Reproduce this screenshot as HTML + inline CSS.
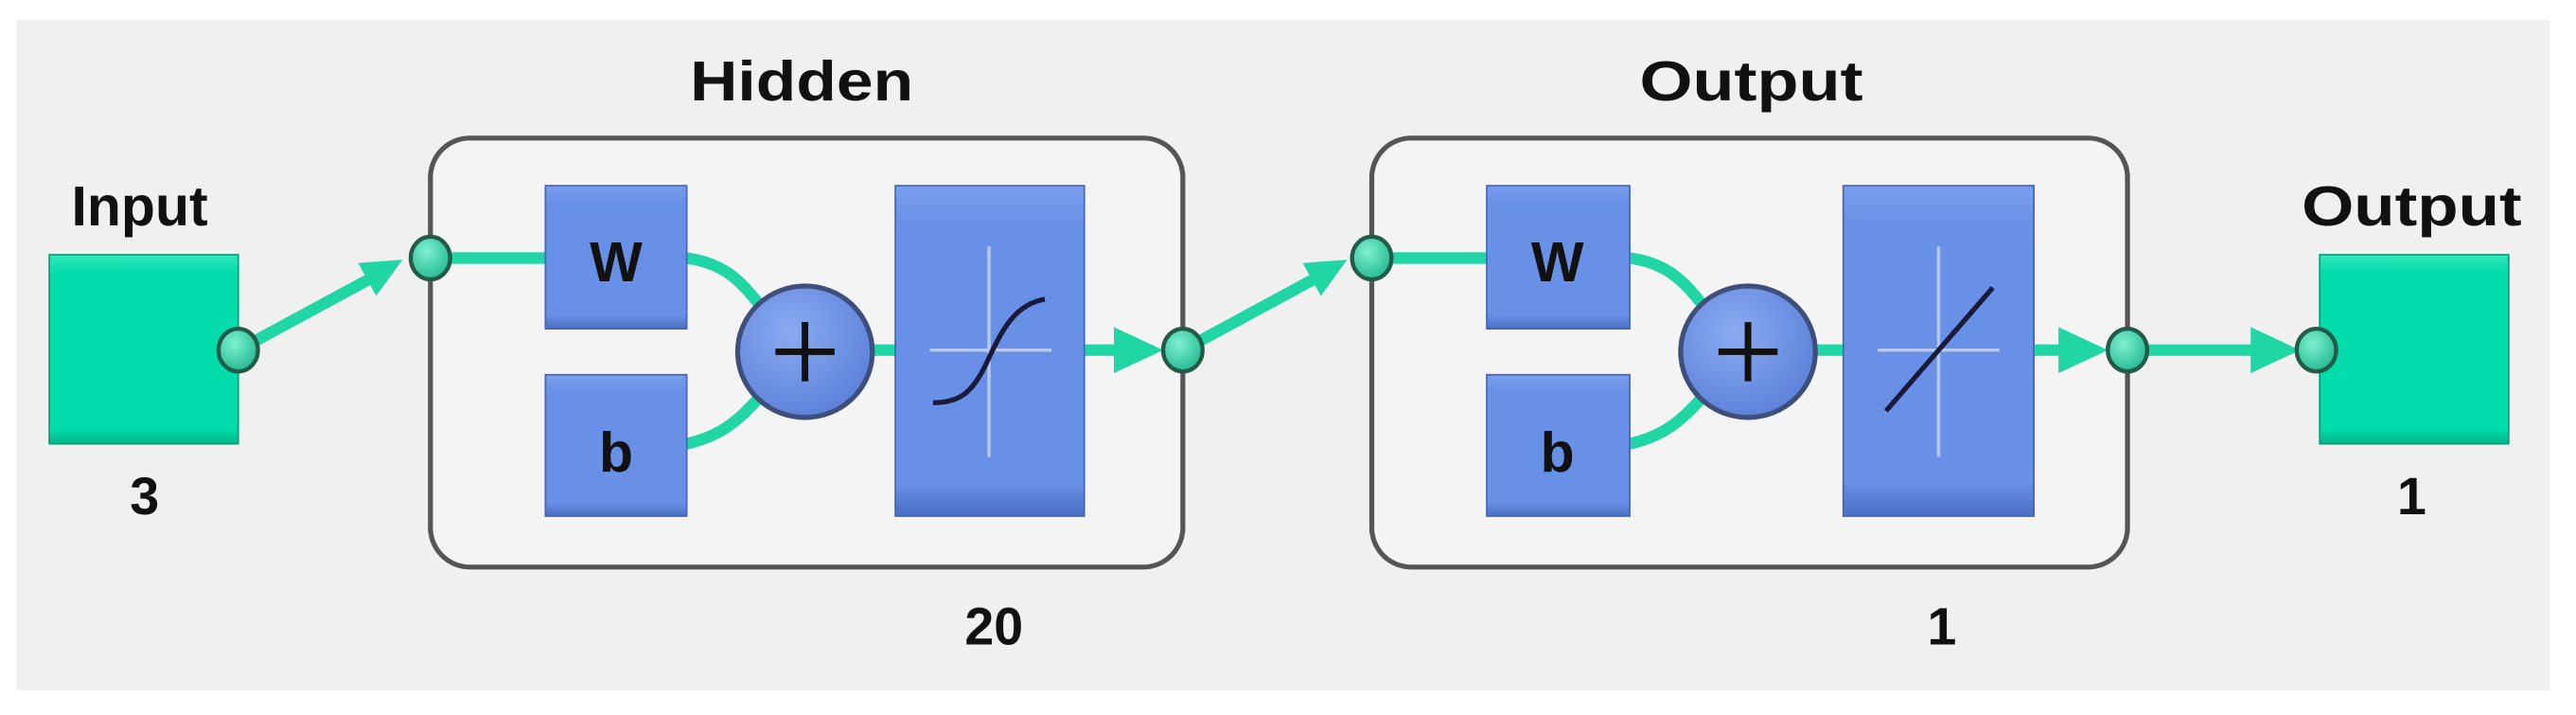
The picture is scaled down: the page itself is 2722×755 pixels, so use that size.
<!DOCTYPE html>
<html><head><meta charset="utf-8"><style>
html,body{margin:0;padding:0;background:#fff;width:2722px;height:755px;overflow:hidden}
svg{display:block}
text{font-family:"Liberation Sans","DejaVu Sans",sans-serif;font-weight:bold;fill:#111}
</style></head><body>
<svg width="2722" height="755" viewBox="0 0 1568 435" preserveAspectRatio="none">
<defs>
<linearGradient id="gb" x1="0" y1="0" x2="0" y2="1"><stop offset="0" stop-color="#7b9ef0"/><stop offset="0.12" stop-color="#6890e6"/><stop offset="0.9" stop-color="#6890e6"/><stop offset="1" stop-color="#4a6fc4"/></linearGradient>
<linearGradient id="gg" x1="0" y1="0" x2="0" y2="1"><stop offset="0" stop-color="#33e8bb"/><stop offset="0.1" stop-color="#00dcaa"/><stop offset="0.92" stop-color="#00dcaa"/><stop offset="1" stop-color="#00b48a"/></linearGradient>
<radialGradient id="gd" cx="0.4" cy="0.35" r="0.7"><stop offset="0" stop-color="#7ff0cf"/><stop offset="1" stop-color="#1fb890"/></radialGradient>
<radialGradient id="gc" cx="0.4" cy="0.35" r="0.7"><stop offset="0" stop-color="#8aaaf2"/><stop offset="1" stop-color="#5a80d8"/></radialGradient>
</defs>
<rect x="10" y="12" width="1542" height="408" fill="#f0f0f0"/>

<!-- labels -->
<text x="85" y="137" font-size="34" text-anchor="middle">Input</text>
<text x="88" y="313" font-size="32" text-anchor="middle">3</text>
<text x="488" y="61" font-size="34" text-anchor="middle" textLength="136" lengthAdjust="spacingAndGlyphs">Hidden</text>
<text x="605" y="392" font-size="32" text-anchor="middle">20</text>
<text x="1066" y="61" font-size="34" text-anchor="middle" textLength="136" lengthAdjust="spacingAndGlyphs">Output</text>
<text x="1182" y="392" font-size="32" text-anchor="middle">1</text>
<text x="1468" y="137" font-size="34" text-anchor="middle" textLength="134" lengthAdjust="spacingAndGlyphs">Output</text>
<text x="1468" y="313" font-size="32" text-anchor="middle">1</text>

<rect x="30" y="155" width="115" height="115" fill="url(#gg)" stroke="#0a9f7a" stroke-width="1"/>
<rect x="1412" y="155" width="115" height="115" fill="url(#gg)" stroke="#0a9f7a" stroke-width="1"/>

<rect x="262" y="84" width="458" height="261" rx="24" fill="#f4f4f4" stroke="#555" stroke-width="3"/>
<rect x="835" y="84" width="460" height="261" rx="24" fill="#f4f4f4" stroke="#555" stroke-width="3"/>

<g stroke="#1fd6a4" stroke-width="7" fill="none" stroke-linecap="round">
<line x1="145" y1="213" x2="230" y2="167"/>
<line x1="262" y1="157" x2="332" y2="157"/>
<path d="M418 157 C440 160 450 170 462 185"/>
<path d="M418 270 C440 265 450 255 462 242"/>
<line x1="530" y1="213" x2="545" y2="213"/>
<line x1="660" y1="213" x2="700" y2="213"/>
<line x1="720" y1="213" x2="805" y2="167"/>
<line x1="835" y1="157" x2="905" y2="157"/>
<path d="M992 157 C1014 160 1024 170 1036 185"/>
<path d="M992 270 C1014 265 1024 255 1036 242"/>
<line x1="1105" y1="213" x2="1122" y2="213"/>
<line x1="1238" y1="213" x2="1275" y2="213"/>
<line x1="1295" y1="213" x2="1390" y2="213"/>
</g>
<g fill="#1fd6a4">
<polygon points="245,158 218,160 229,180"/>
<polygon points="820,158 793,160 804,180"/>
<polygon points="708,213 678,199 678,227"/>
<polygon points="1283,213 1253,199 1253,227"/>
<polygon points="1400,213 1370,199 1370,227"/>
</g>

<g stroke="#4466b8" stroke-width="1">
<rect x="332" y="113" width="86" height="87" fill="url(#gb)"/>
<rect x="332" y="228" width="86" height="86" fill="url(#gb)"/>
<rect x="545" y="113" width="115" height="201" fill="url(#gb)"/>
<rect x="905" y="113" width="87" height="87" fill="url(#gb)"/>
<rect x="905" y="228" width="87" height="86" fill="url(#gb)"/>
<rect x="1122" y="113" width="116" height="201" fill="url(#gb)"/>
</g>
<text x="375" y="171" font-size="34" text-anchor="middle">W</text>
<text x="375" y="287" font-size="34" text-anchor="middle">b</text>
<text x="948" y="171" font-size="34" text-anchor="middle">W</text>
<text x="948" y="287" font-size="34" text-anchor="middle">b</text>

<g stroke="#b6c9f3" stroke-width="2">
<line x1="602" y1="150" x2="602" y2="278"/><line x1="566" y1="213" x2="640" y2="213"/>
<line x1="1180" y1="150" x2="1180" y2="278"/><line x1="1143" y1="213" x2="1217" y2="213"/>
</g>
<path d="M568 245 C585 245 592 238 600 222 C610 200 618 185 636 182" stroke="#1a1a3a" stroke-width="3" fill="none"/>
<line x1="1148" y1="250" x2="1213" y2="175" stroke="#1a1a3a" stroke-width="3"/>

<ellipse cx="490" cy="214" rx="41" ry="40" fill="url(#gc)" stroke="#3d4f7a" stroke-width="3"/>
<path d="M490 196 V232 M472 214 H508" stroke="#111" stroke-width="4"/>
<ellipse cx="1064" cy="214" rx="41" ry="40" fill="url(#gc)" stroke="#3d4f7a" stroke-width="3"/>
<path d="M1064 196 V232 M1046 214 H1082" stroke="#111" stroke-width="4"/>

<g fill="url(#gd)" stroke="#245a48" stroke-width="2.5">
<ellipse cx="145" cy="213" rx="12" ry="13"/>
<ellipse cx="262" cy="157" rx="12" ry="13"/>
<ellipse cx="720" cy="213" rx="12" ry="13"/>
<ellipse cx="835" cy="157" rx="12" ry="13"/>
<ellipse cx="1295" cy="213" rx="12" ry="13"/>
<ellipse cx="1410" cy="213" rx="12" ry="13"/>
</g>
</svg>
</body></html>
